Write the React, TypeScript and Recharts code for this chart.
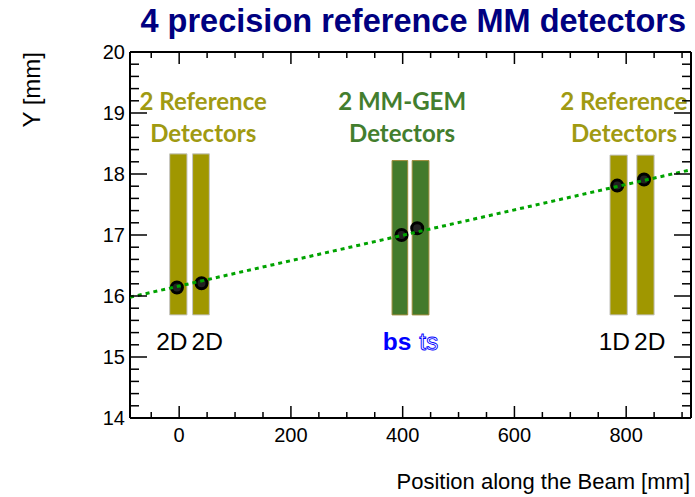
import React from "react";
import {
  ComposedChart,
  XAxis,
  YAxis,
  Scatter,
  Line,
  ReferenceArea,
  ReferenceLine,
} from "recharts";

// detector planes along the beam (mm) and their vertical extent (mm)
const detectorLeft = [-17, 24, 381, 417, 771, 819];
const detectorRight = [14, 54, 409, 447, 802, 850];
const detectorTop = [18.33, 18.33, 18.22, 18.22, 18.31, 18.31];
const detectorBottom = [15.69, 15.69, 15.69, 15.69, 15.69, 15.69];
const detectorKind = ["ref", "ref", "gem", "gem", "ref", "ref"];
const readout = ["2D", "2D", "bs", "ts", "1D", "2D"];

// reconstructed hits
const hitX = [-4, 40, 398, 426, 784, 832];
const hitY = [16.14, 16.21, 17.0, 17.11, 17.81, 17.91];

// straight-line track fit, read at the frame edges
const fitX = [-88, 916];
const fitY = [15.98, 18.07];

const groupTitle = [
  ["2 Reference", "Detectors"],
  ["2 MM-GEM", "Detectors"],
  ["2 Reference", "Detectors"],
];
const groupKind = ["ref", "gem", "ref"];
const groupLabelX = [43, 399, 796];

const xDomain = [-88, 916];
const yDomain = [14, 20];
const xMajorStep = 200;
const xMinorStep = 50;
const yMinorStep = 0.2;

const colors: Record<string, { fill: string; stroke: string; text: string }> = {
  ref: { fill: "#a09700", stroke: "#c4c4c4", text: "#a09a12" },
  gem: { fill: "#437a2c", stroke: "#a08c3c", text: "#437e2e" },
};

const axisFont = "'Liberation Sans', Arial, Helvetica, sans-serif";
const labelFont = "Lato, 'Open Sans', sans-serif";

const xTicks: number[] = [];
for (let v = -50; v <= 900; v += xMinorStep) xTicks.push(v);
const yTicks: number[] = [];
for (let i = 0; i <= 30; i++) yTicks.push(Math.round((14 + i * yMinorStep) * 10) / 10);

const hits = hitX.map((x, i) => ({ x, y: hitY[i] }));
const fit = fitX.map((x, i) => ({ x, y: fitY[i] }));

function BottomTick({ x, y, payload }: any) {
  const v = payload.value;
  const major = v % xMajorStep === 0;
  return (
    <g>
      <line x1={x} y1={y} x2={x} y2={y - (major ? 12 : 6)} stroke="#000" strokeWidth={1.5} />
      {major && (
        <text x={x} y={y + 24} textAnchor="middle" fontSize={20} fontFamily={axisFont} fill="#000">
          {v}
        </text>
      )}
    </g>
  );
}

function TopTick({ x, y, payload }: any) {
  const major = payload.value % xMajorStep === 0;
  return <line x1={x} y1={y} x2={x} y2={y + (major ? 12 : 6)} stroke="#000" strokeWidth={1.5} />;
}

function LeftTick({ x, y, payload }: any) {
  const v = payload.value;
  const major = Number.isInteger(v);
  return (
    <g>
      <line x1={x} y1={y} x2={x + (major ? 17 : 9)} y2={y} stroke="#000" strokeWidth={1.5} />
      {major && (
        <text x={x - 5} y={y + 7} textAnchor="end" fontSize={20} fontFamily={axisFont} fill="#000">
          {v}
        </text>
      )}
    </g>
  );
}

function RightTick({ x, y, payload }: any) {
  const major = Number.isInteger(payload.value);
  return <line x1={x} y1={y} x2={x - (major ? 17 : 9)} y2={y} stroke="#000" strokeWidth={1.5} />;
}

function readoutStyle(name: string) {
  if (name === "bs") return { fill: "#0000ff", fontWeight: 700 };
  if (name === "ts") return { fill: "none", stroke: "#0000ff", strokeWidth: 0.9 };
  return { fill: "#000" };
}

export default function App() {
  return (
    <div style={{ position: "absolute", left: 0, top: 0, width: 695, height: 497, background: "#fff" }}>
      <ComposedChart width={695} height={497} margin={{ top: 51, right: 3, bottom: 49, left: 70 }}>
        <XAxis
          xAxisId="b"
          type="number"
          dataKey="x"
          domain={xDomain}
          ticks={xTicks}
          interval={0}
          allowDataOverflow
          height={30}
          tickSize={0}
          tickMargin={0}
          tick={<BottomTick />}
          axisLine={{ stroke: "#000", strokeWidth: 2 }}
        />
        <XAxis
          xAxisId="t"
          orientation="top"
          type="number"
          dataKey="x"
          domain={xDomain}
          ticks={xTicks}
          interval={0}
          allowDataOverflow
          height={1}
          tickSize={0}
          tickMargin={0}
          tick={<TopTick />}
          axisLine={{ stroke: "#000", strokeWidth: 2 }}
        />
        <YAxis
          yAxisId="l"
          type="number"
          dataKey="y"
          domain={yDomain}
          ticks={yTicks}
          interval={0}
          allowDataOverflow
          width={60}
          tickSize={0}
          tickMargin={0}
          tick={<LeftTick />}
          axisLine={{ stroke: "#000", strokeWidth: 2 }}
        />
        <YAxis
          yAxisId="r"
          orientation="right"
          type="number"
          dataKey="y"
          domain={yDomain}
          ticks={yTicks}
          interval={0}
          allowDataOverflow
          width={1}
          tickSize={0}
          tickMargin={0}
          tick={<RightTick />}
          axisLine={{ stroke: "#000", strokeWidth: 2 }}
        />

        {detectorLeft.map((x1, i) => (
          <ReferenceArea
            key={"det" + i}
            xAxisId="b"
            yAxisId="l"
            x1={x1}
            x2={detectorRight[i]}
            y1={detectorBottom[i]}
            y2={detectorTop[i]}
            fill={colors[detectorKind[i]].fill}
            fillOpacity={1}
            stroke={colors[detectorKind[i]].stroke}
            strokeWidth={1}
            ifOverflow="visible"
          />
        ))}

        {groupTitle.map((lines, g) => (
          <ReferenceLine
            key={"title" + g}
            xAxisId="b"
            yAxisId="l"
            x={groupLabelX[g]}
            stroke="none"
            label={(p: any) => (
              <text
                textAnchor="middle"
                fontFamily={labelFont}
                fontWeight={700}
                fontSize={24}
                fill={colors[groupKind[g]].text}
              >
                <tspan x={p.viewBox.x} y={p.viewBox.y + 58}>{lines[0]}</tspan>
                <tspan x={p.viewBox.x} y={p.viewBox.y + 90}>{lines[1]}</tspan>
              </text>
            )}
          />
        ))}

        {groupTitle.map((_, g) => (
          <ReferenceLine
            key={"ro" + g}
            xAxisId="b"
            yAxisId="l"
            x={(detectorLeft[2 * g] + detectorRight[2 * g + 1]) / 2}
            stroke="none"
            label={(p: any) => (
              <text
                x={p.viewBox.x}
                y={p.viewBox.y + 298}
                textAnchor="middle"
                fontFamily={axisFont}
                fontSize={24.5}
              >
                {[readout[2 * g], readout[2 * g + 1]].map((n, k) => (
                  <tspan key={k} dx={k ? (g === 1 ? 8 : 4) : 0} {...readoutStyle(n)}>
                    {n}
                  </tspan>
                ))}
              </text>
            )}
          />
        ))}

        <Scatter
          xAxisId="b"
          yAxisId="l"
          data={hits}
          isAnimationActive={false}
          shape={(p: any) => <circle cx={p.cx} cy={p.cy} r={5.5} fill="#222" stroke="#000" strokeWidth={3} />}
        />
        <Line
          xAxisId="b"
          yAxisId="l"
          data={fit}
          dataKey="y"
          type="linear"
          stroke="#00a300"
          strokeWidth={3}
          strokeDasharray="4 4"
          dot={false}
          activeDot={false}
          isAnimationActive={false}
          zIndex={700}
        />
      </ComposedChart>

      <svg width={695} height={497} style={{ position: "absolute", left: 0, top: 0, pointerEvents: "none" }}>
        <text x={686} y={32} textAnchor="end" fontFamily={axisFont} fontWeight={700} fontSize={32.5} fill="#000080">
          4 precision reference MM detectors
        </text>
        <text x={690} y={489} textAnchor="end" fontFamily={axisFont} fontSize={22} fill="#000">
          Position along the Beam [mm]
        </text>
        <text
          x={40}
          y={52}
          textAnchor="end"
          fontFamily={axisFont}
          fontSize={24}
          fill="#000"
          transform="rotate(-90 40 52)"
        >
          Y [mm]
        </text>
      </svg>
    </div>
  );
}
